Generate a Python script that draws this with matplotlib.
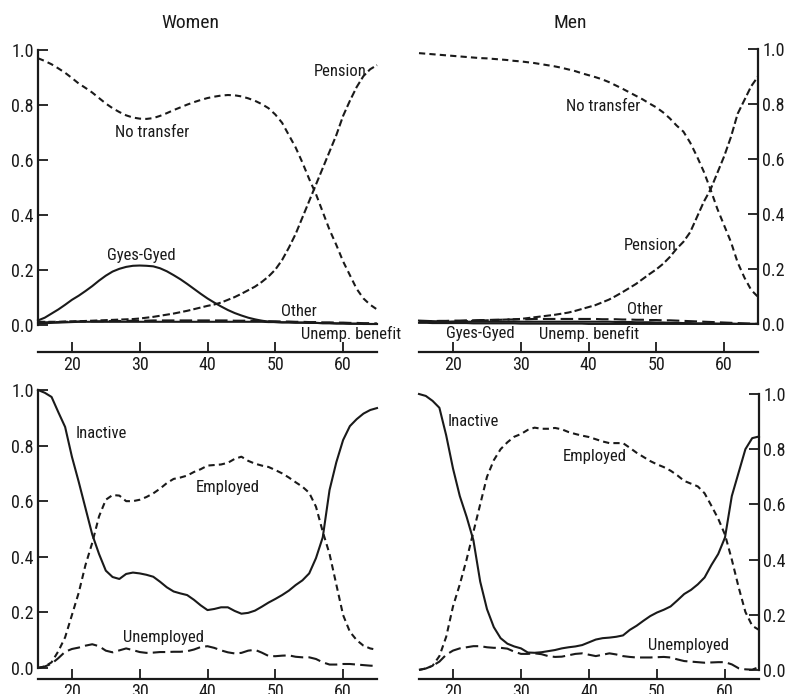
import matplotlib
matplotlib.use("Agg")
import matplotlib.pyplot as plt
from matplotlib import font_manager as fm

# ---- choose an upright, regular-weight condensed sans font if one is installed ----
def _is_regular(e):
    fn = e.fname.lower()
    w = e.weight
    w_ok = (w in (400, 'normal', 'regular', 'book')) or (isinstance(w, int) and 350 <= w <= 450)
    return (e.style == 'normal' and w_ok and 'italic' not in fn
            and 'oblique' not in fn and 'bold' not in fn and 'light' not in fn
            and 'thin' not in fn and 'medium' not in fn and 'black' not in fn)


def pick_font():
    entries = fm.fontManager.ttflist
    for want in ['Liberation Sans Narrow', 'Roboto Condensed', 'Open Sans Condensed',
                 'DejaVu Sans Condensed']:
        for e in entries:
            if e.name == want and _is_regular(e):
                return e.fname
    for e in entries:
        fn = e.fname.lower()
        if ('condensed' in str(e.stretch) or 'narrow' in fn or 'condensed' in fn) \
                and _is_regular(e) and 'mono' not in fn and 'serif' not in e.name.lower():
            return e.fname
    return None


fpath = pick_font()
if fpath is not None:
    FONT = dict(fontproperties=fm.FontProperties(fname=fpath))
    NARROW = True
else:
    FONT = dict(family='Roboto')
    NARROW = False

ages = list(range(15, 66))

# ---- Transfers, women ----
w_no_transfer = [.970, .960, .948, .933, .917, .898, .878, .862, .845, .825,
                 .805, .788, .774, .762, .754, .750, .749, .752, .760, .770,
                 .781, .791, .801, .810, .818, .825, .830, .834, .836, .835,
                 .831, .824, .815, .803, .788, .765, .735, .690, .645, .590,
                 .530, .475, .410, .345, .290, .230, .180, .130, .095, .072, .055]
w_pension = [.010, .010, .010, .010, .011, .012, .012, .013, .014, .015,
             .016, .017, .018, .019, .020, .022, .025, .028, .032, .036,
             .040, .045, .050, .056, .062, .068, .073, .080, .090, .100,
             .112, .125, .138, .155, .175, .200, .235, .280, .330, .390,
             .450, .510, .570, .630, .690, .760, .815, .865, .905, .930, .945]
w_gyes = [.015, .025, .040, .055, .072, .090, .105, .122, .140, .160,
          .178, .193, .203, .210, .214, .215, .214, .212, .205, .194,
          .180, .165, .148, .130, .112, .095, .080, .066, .053, .042,
          .033, .025, .019, .014, .011, .009, .008, .008, .007, .007,
          .006, .006, .005, .005, .004, .004, .003, .003, .003, .002, .002]
w_other = [.008, .008, .009, .009, .010, .010, .011, .011, .012, .012,
           .012, .013, .013, .013, .014, .014, .014, .015, .015, .015,
           .015, .015, .015, .015, .015, .015, .015, .015, .015, .014,
           .014, .014, .013, .013, .012, .012, .011, .011, .010, .010,
           .009, .009, .008, .008, .007, .007, .006, .006, .005, .005, .004]
w_unemp_benefit = [.004, .005, .006, .007, .008, .009, .010, .010, .010, .010,
                   .010, .010, .010, .010, .010, .010, .010, .010, .010, .010,
                   .010, .010, .010, .010, .010, .010, .010, .010, .010, .010,
                   .010, .010, .010, .010, .009, .009, .008, .008, .007, .007,
                   .006, .006, .005, .005, .004, .004, .003, .003, .002, .002, .002]

# ---- Transfers, men ----
m_no_transfer = [.985, .983, .981, .979, .977, .975, .973, .971, .969, .967,
                 .966, .964, .962, .960, .957, .955, .952, .949, .945, .941,
                 .937, .932, .926, .920, .912, .905, .898, .890, .880, .868,
                 .856, .843, .830, .817, .802, .788, .770, .748, .722, .700,
                 .660, .610, .555, .490, .420, .360, .300, .225, .170, .125, .100]
m_pension = [.008, .008, .008, .009, .009, .010, .011, .012, .013, .014,
             .015, .016, .017, .018, .019, .020, .023, .026, .029, .032,
             .035, .039, .043, .049, .056, .063, .070, .080, .090, .103,
             .117, .132, .147, .165, .183, .200, .220, .245, .275, .300,
             .335, .390, .445, .490, .550, .610, .680, .765, .815, .865, .900]
m_gyes = [.006, .006, .005, .005, .005, .005, .005, .005, .004, .004,
          .004, .004, .004, .004, .004, .003, .003, .003, .003, .003,
          .003, .003, .003, .003, .003, .002, .002, .002, .002, .002,
          .002, .002, .002, .002, .002, .002, .002, .002, .002, .002,
          .002, .002, .002, .002, .002, .002, .002, .002, .002, .002, .002]
m_other = [.012, .012, .012, .013, .013, .014, .014, .015, .015, .016,
           .016, .017, .017, .018, .018, .019, .019, .020, .020, .020,
           .020, .020, .020, .020, .020, .020, .020, .019, .019, .019,
           .018, .018, .017, .017, .016, .016, .015, .015, .014, .013,
           .012, .011, .010, .009, .008, .007, .006, .005, .004, .003, .002]
m_unemp_benefit = [.014, .013, .012, .011, .010, .010, .010, .010, .010, .010,
                   .010, .010, .010, .010, .010, .010, .010, .010, .010, .010,
                   .010, .010, .010, .010, .010, .010, .010, .010, .010, .009,
                   .009, .009, .008, .008, .008, .007, .007, .006, .006, .005,
                   .005, .004, .004, .004, .003, .003, .003, .002, .002, .002, .002]

# ---- Labour status, women ----
w_inactive = [1.000, .990, .975, .920, .867, .760, .670, .575, .480, .410,
              .350, .327, .320, .338, .343, .340, .335, .328, .310, .290,
              .275, .268, .262, .245, .225, .208, .212, .218, .218, .205,
              .195, .198, .206, .220, .235, .248, .262, .278, .298, .315,
              .340, .395, .470, .640, .740, .820, .870, .895, .915, .928, .935]
w_employed = [.000, .005, .020, .060, .110, .190, .270, .370, .450, .545,
              .605, .622, .620, .600, .600, .605, .615, .628, .645, .665,
              .680, .685, .692, .705, .715, .728, .730, .732, .738, .752,
              .760, .745, .735, .728, .723, .712, .700, .685, .668, .652,
              .630, .580, .490, .410, .300, .190, .130, .100, .080, .070, .065]
w_unemployed = [.000, .005, .015, .035, .058, .068, .073, .080, .085, .078,
                .062, .056, .063, .070, .064, .057, .054, .055, .057, .057,
                .058, .058, .060, .066, .075, .078, .072, .063, .056, .052,
                .054, .062, .065, .055, .043, .042, .044, .045, .040, .038,
                .038, .032, .020, .012, .012, .014, .014, .012, .010, .008, .007]

# ---- Labour status, men ----
m_inactive = [1.000, .993, .975, .950, .850, .730, .630, .555, .470, .320,
              .220, .155, .115, .095, .085, .078, .063, .062, .064, .068,
              .072, .078, .082, .085, .090, .100, .110, .115, .117, .120,
              .125, .145, .160, .178, .195, .208, .218, .230, .252, .275,
              .290, .310, .335, .380, .420, .480, .630, .715, .800, .840, .846]
m_employed = [.000, .005, .015, .050, .120, .230, .310, .400, .500, .600,
              .700, .760, .800, .825, .845, .855, .870, .878, .874, .874,
              .877, .872, .862, .855, .849, .844, .836, .828, .822, .822,
              .822, .805, .787, .772, .757, .745, .735, .722, .705, .685,
              .675, .665, .640, .595, .548, .490, .400, .300, .210, .160, .145]
m_unemployed = [.000, .005, .015, .030, .055, .070, .078, .082, .086, .086,
                .082, .080, .080, .077, .066, .058, .058, .060, .057, .050,
                .047, .048, .053, .058, .060, .055, .050, .055, .060, .056,
                .050, .047, .045, .045, .045, .046, .047, .045, .038, .032,
                .030, .028, .026, .027, .028, .028, .020, .006, .002, .001, .010]

x_ticks = [20, 30, 40, 50, 60]
x_tick_labels = ['20', '30', '40', '50', '60']
y_ticks = [0.0, 0.2, 0.4, 0.6, 0.8, 1.0]
y_tick_labels = ['0.0', '0.2', '0.4', '0.6', '0.8', '1.0']

W, H = 788, 694
fig = plt.figure(figsize=(W / 100, H / 100), dpi=100)

tick_fs = 13 if NARROW else 10.5
fs = 12 if NARROW else 9.5
title_fs = 14 if NARROW else 11.5
lc = '#1a1a1a'


def make_ax(px_left, px_right, px_top, px_bottom, ymin, side):
    ax = fig.add_axes([px_left / W, 1 - px_bottom / H,
                       (px_right - px_left) / W, (px_bottom - px_top) / H])
    ax.set_xlim(15, 65)
    ax.set_ylim(ymin, 1.0)
    for s in ['top', 'left', 'right', 'bottom']:
        ax.spines[s].set_visible(False)
    ax.spines['bottom'].set_visible(True)
    ax.spines['bottom'].set_bounds(15, 65)
    ax.spines[side].set_visible(True)
    ax.spines[side].set_bounds(0, 1)
    for s in ax.spines.values():
        s.set_linewidth(1.6)
        s.set_color(lc)
    if side == 'right':
        ax.yaxis.tick_right()
    ax.set_xticks(x_ticks)
    ax.set_xticklabels(x_tick_labels, **FONT)
    ax.set_yticks(y_ticks)
    ax.set_yticklabels(y_tick_labels, **FONT)
    ax.tick_params(axis='both', direction='in', length=7, width=1.3,
                   colors=lc, pad=3, labelsize=tick_fs)
    ax.tick_params(axis='x', pad=3)
    ax.patch.set_visible(False)
    return ax


lw = 1.5
short_dash = (0, (3, 2))
pension_dash = (0, (3.5, 1.5))
long_dash = (0, (6, 2.5))


def label(ax, x, y, s, ha='center'):
    ax.text(x, y, s, ha=ha, va='center', fontsize=fs, color=lc, **FONT)


ax1 = make_ax(38, 377, 50, 352, -0.1, 'left')
ax2 = make_ax(419, 758, 49, 352, -0.1, 'right')
ax3 = make_ax(38, 377, 390, 679, -0.04, 'left')
ax4 = make_ax(419, 759, 394, 679, -0.033, 'right')

# Women transfers
ax1.plot(ages, w_no_transfer, color=lc, lw=lw, ls=short_dash, clip_on=False)
ax1.plot(ages, w_pension, color=lc, lw=lw, ls=pension_dash, clip_on=False)
ax1.plot(ages, w_gyes, color=lc, lw=lw, ls='-', clip_on=False)
ax1.plot(ages, w_other, color=lc, lw=lw, ls=long_dash, clip_on=False)
ax1.plot(ages, w_unemp_benefit, color=lc, lw=lw, ls='-', clip_on=False)
label(ax1, 31.8, 0.70, 'No transfer')
label(ax1, 63.4, 0.923, 'Pension', ha='right')
label(ax1, 30.3, 0.251, 'Gyes-Gyed')
label(ax1, 53.5, 0.047, 'Other')
label(ax1, 61.2, -0.036, 'Unemp. benefit')

# Men transfers
ax2.plot(ages, m_no_transfer, color=lc, lw=lw, ls=short_dash, clip_on=False)
ax2.plot(ages, m_pension, color=lc, lw=lw, ls=pension_dash, clip_on=False)
ax2.plot(ages, m_gyes, color=lc, lw=lw, ls='-', clip_on=False)
ax2.plot(ages, m_other, color=lc, lw=lw, ls=long_dash, clip_on=False)
ax2.plot(ages, m_unemp_benefit, color=lc, lw=lw, ls='-', clip_on=False)
label(ax2, 42.1, 0.793, 'No transfer')
label(ax2, 49.1, 0.286, 'Pension')
label(ax2, 48.3, 0.054, 'Other')
label(ax2, 24.1, -0.034, 'Gyes-Gyed')
label(ax2, 40.1, -0.034, 'Unemp. benefit')

# Women labour status
ax3.plot(ages, w_inactive, color=lc, lw=lw, ls='-', clip_on=False)
ax3.plot(ages, w_employed, color=lc, lw=lw, ls=short_dash, clip_on=False)
ax3.plot(ages, w_unemployed, color=lc, lw=lw, ls=long_dash, clip_on=False)
label(ax3, 24.4, 0.845, 'Inactive')
label(ax3, 43.0, 0.65, 'Employed')
label(ax3, 33.5, 0.11, 'Unemployed')

# Men labour status
ax4.plot(ages, m_inactive, color=lc, lw=lw, ls='-', clip_on=False)
ax4.plot(ages, m_employed, color=lc, lw=lw, ls=short_dash, clip_on=False)
ax4.plot(ages, m_unemployed, color=lc, lw=lw, ls=long_dash, clip_on=False)
label(ax4, 23.0, 0.90, 'Inactive')
label(ax4, 40.8, 0.772, 'Employed')
label(ax4, 54.7, 0.087, 'Unemployed')

# Panel titles
fig.text(190 / W, 1 - 23 / H, 'Women', ha='center', va='center',
         fontsize=title_fs, color=lc, **FONT)
fig.text(570 / W, 1 - 23 / H, 'Men', ha='center', va='center',
         fontsize=title_fs, color=lc, **FONT)

fig.savefig('out.png', dpi=100, facecolor='white')
